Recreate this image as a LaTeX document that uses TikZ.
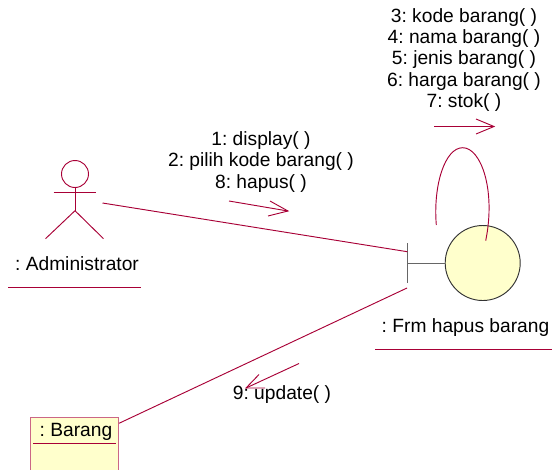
\documentclass[tikz,border=0pt]{standalone}
\usepackage{fontspec}
\setmainfont{Liberation Sans}
\frenchspacing
\definecolor{umlline}{HTML}{A80036}
\definecolor{umlfill}{HTML}{FFFFCC}
\begin{document}
\begin{tikzpicture}[x=0.75pt,y=-0.75pt,
  umlconn/.style={draw=umlline,line width=0.7pt},
  umltext/.style={inner sep=0pt,align=center,font=\fontsize{14.4}{16}\selectfont,text=black},
  umlbar/.style={draw=black!60,line width=0.75pt}]
\useasboundingbox (0,0) rectangle (552,469);
% actor
\node[circle,draw=umlline,line width=0.7pt,minimum size=27*0.75pt,inner sep=0pt] (head) at (75,174) {};
\coordinate (armL) at (53.5,192.7);
\coordinate (armR) at (96,192.7);
\coordinate (hip) at (75,210.7);
\coordinate (footL) at (45.5,238.7);
\coordinate (footR) at (103.5,238.7);
\draw[umlconn] (head.south) -- (hip);
\draw[umlconn] (armL) -- (armR);
\draw[umlconn] (footL) -- (hip) -- (footR);
\node[umltext] (admin) at (77,264) {: Administrator};
\coordinate (adminA) at (8,287.7);
\coordinate (adminB) at (141,287.7);
\draw[umlconn] (adminA) -- (adminB);
% boundary
\node[circle,draw=black!80,fill=umlfill,line width=0.7pt,minimum size=75*0.75pt,inner sep=0pt] (frm) at (482.7,263) {};
\coordinate (barT) at (407.5,243);
\coordinate (barB) at (407.5,283);
\coordinate (barM) at (407.5,263);
\draw[umlbar] (barT) -- (barB);
\draw[umlbar] (barM) -- (frm.west);
\node[umltext] (frmt) at (465.5,327.5) {: Frm hapus barang};
\coordinate (frmA) at (375,349.3);
\coordinate (frmB) at (552,349.3);
\draw[umlconn] (frmA) -- (frmB);
% loop
\coordinate (loopS) at (436.3,225);
\coordinate (loopE) at (485.7,240.7);
\draw[umlconn] (loopS) .. controls (433,185) and (445,147.7) .. (462.7,147.7)
  .. controls (481,147.7) and (496,190) .. (loopE);
% class
\node[draw=umlline!60,fill=umlfill,line width=1pt,minimum width=88*0.75pt,minimum height=60*0.75pt,inner sep=0pt,anchor=north west] (bar) at (30,416.7) {};
\node[umltext] (bart) at (76,432) {: Barang};
\coordinate (barLA) at (33,443);
\coordinate (barLB) at (115.5,443);
\draw[umlconn] (barLA) -- (barLB);
% links
\coordinate (adminEnd) at (102.5,203);
\coordinate (bndIn) at (407.3,251.7);
\coordinate (bndOut) at (407,288);
\coordinate (barIn) at (119,423.3);
\draw[umlconn] (adminEnd) -- (bndIn);
\draw[umlconn] (bndOut) -- (barIn);
% messages
\node[umltext] (m1) at (261,162) {1: display( )\\2: pilih kode barang( )\\8: hapus( )};
\coordinate (a1s) at (229,201);
\coordinate (a1e) at (288,211);
\coordinate (a1u) at (270,201);
\coordinate (a1d) at (268,216);
\draw[umlconn] (a1s) -- (a1e);
\draw[umlconn] (a1u) -- (a1e) -- (a1d);
\node[umltext] (m2) at (464,60) {3: kode barang( )\\4: nama barang( )\\5: jenis barang( )\\6: harga barang( )\\7: stok( )};
\coordinate (a2s) at (434,126.5);
\coordinate (a2e) at (494,126.5);
\coordinate (a2u) at (476,119);
\coordinate (a2d) at (476,134);
\draw[umlconn] (a2s) -- (a2e);
\draw[umlconn] (a2u) -- (a2e) -- (a2d);
\node[umltext] (m3) at (282,395) {9: update( )};
\coordinate (a3s) at (299,363.5);
\coordinate (a3e) at (246,388);
\coordinate (a3u) at (259,374.5);
\coordinate (a3d) at (265,388);
\draw[umlconn] (a3s) -- (a3e);
\draw[umlconn] (a3u) -- (a3e) -- (a3d);
\end{tikzpicture}
\end{document}
